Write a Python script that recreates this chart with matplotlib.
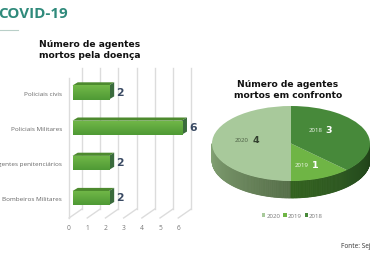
import matplotlib
matplotlib.use("Agg")
import matplotlib.pyplot as plt, numpy as np
from matplotlib.colors import to_rgb

W, H = 370, 270

bar_labels = ["Policiais civis", "Policiais Militares", "Agentes penitenciários", "Bombeiros Militares"]
bar_values = [2, 6, 2, 2]
bar_ticks = [0, 1, 2, 3, 4, 5, 6]

pie_years = ["2020", "2019", "2018"]
pie_values = [4, 1, 3]
pie_colors = ["#a8c99b", "#6fb545", "#47893a"]
side_left = ["#86a577", "#33621f", "#2a5420"]
side_right = ["#566f49", "#2c5620", "#1f4018"]


def px_axes(fig, x0, x1, y_top, y_bottom):
    # axes placed with reference pixel coordinates
    return fig.add_axes([x0 / W, 1 - y_bottom / H, (x1 - x0) / W, (y_bottom - y_top) / H])


fig = plt.figure(figsize=(W / 100, H / 100), dpi=100, facecolor="white")

fig.text(-2 / W, 1 - 13.5 / H, "COVID-19", color="#2f8a7b", fontsize=10.9, fontweight="bold",
         family="Open Sans", va="center", ha="left")
fig.add_artist(plt.Line2D([0, 18 / W], [1 - 30 / H, 1 - 30 / H], color="#b9cfc8", lw=0.8))

fig.text(90 / W, 1 - 50 / H, "Número de agentes\nmortos pela doença", fontsize=6.6, fontweight="bold",
         color="#111111", ha="center", va="center", linespacing=1.4)
fig.text(288 / W, 1 - 90 / H, "Número de agentes\nmortos em confronto", fontsize=6.6, fontweight="bold",
         color="#111111", ha="center", va="center", linespacing=1.4)

# bars
ax = px_axes(fig, 72.5, 181.7, 92.5, 198.1)
ax.set_xlim(0, 6)
ax.set_ylim(3, 0)
ax.axis("off")

back_dx, front_dx = 0.52, -0.19
floor_y, back_floor_y, top_y, side_top_y = 3.565, 3.31, -0.70, -0.41
grid = "#dcdcdc"
ax.plot([front_dx, front_dx], [side_top_y, floor_y], color=grid, lw=1, clip_on=False, zorder=1)
for t in bar_ticks:
    ax.plot([t + back_dx, t + back_dx], [top_y, back_floor_y], color=grid, lw=1, clip_on=False, zorder=1)
    ax.plot([t + front_dx, t + back_dx], [floor_y, back_floor_y], color=grid, lw=1, clip_on=False, zorder=1)
    ax.text(t + front_dx, 3.85, str(t), fontsize=4.8, color="#777777", ha="center", va="center",
            family="Open Sans")

bar_h = 0.40
depth_x, depth_y = 0.29, 0.09
gradient = np.linspace(0, 1, 32).reshape(-1, 1)
cmap = matplotlib.colors.LinearSegmentedColormap.from_list("barface", ["#72b848", "#4f9a35"])
for i, v in enumerate(bar_values):
    y0, y1 = i - bar_h / 2, i + bar_h / 2
    rect = ax.barh(i, v, height=bar_h, color="#62a93f", zorder=3)[0]
    im = ax.imshow(gradient, extent=[0, v, y1, y0], cmap=cmap, aspect="auto", zorder=3.1)
    im.set_clip_path(rect)
    ax.fill([0, depth_x, v + depth_x, v], [y0, y0 - depth_y, y0 - depth_y, y0], color="#4d8a2e", lw=0,
            clip_on=False, zorder=3)
    ax.fill([v, v + depth_x, v + depth_x, v], [y0, y0 - depth_y, y1 - depth_y, y1], color="#3a6b3c", lw=0,
            clip_on=False, zorder=3)
    ax.text(v + 0.42, i, str(v), fontsize=7.8, fontweight="bold", color="#3a4a63", ha="left", va="center",
            clip_on=False, zorder=4)
    ax.text(-0.58, i + 0.05, bar_labels[i], fontsize=4.6, color="#666666", ha="right", va="center",
            family="Open Sans", clip_on=False)
ax.set_xlim(0, 6)
ax.set_ylim(3, 0)

# pie with extruded rim
depth = 17 / 37.5
ax2 = px_axes(fig, 212, 370, 106, 198)
wedges, _ = ax2.pie(pie_values, colors=pie_colors, startangle=90, counterclock=True, radius=1)
for w in wedges:
    w.set_zorder(3)
    w.set_linewidth(0)
ax2.set_aspect("auto")
ax2.set_xlim(-1, 1)
ax2.set_ylim(-1 - depth, 1)
for k, w in enumerate(wedges):
    lo = max(w.theta1, 180)
    hi = min(w.theta2, 360)
    if hi <= lo:
        continue
    steps = max(int(hi - lo), 2)
    edges = np.radians(np.linspace(lo, hi, steps + 1))
    c0, c1 = np.array(to_rgb(side_left[k])), np.array(to_rgb(side_right[k]))
    for j in range(steps):
        a, b = edges[j], edges[j + 1]
        f = j / max(steps - 1, 1)
        col = c0 + (c1 - c0) * f
        ax2.fill([np.cos(a), np.cos(b), np.cos(b), np.cos(a)],
                 [np.sin(a), np.sin(b), np.sin(b) - depth, np.sin(a) - depth],
                 facecolor=col, edgecolor=col, lw=0.6, zorder=2, clip_on=False)

pie_label_pos = [(-0.53, 0.08), (0.22, -0.58), (0.40, 0.35)]
pie_text = ["#4d5f45", "#f2f7ee", "#f2f7ee"]
for (x, y), yr, v, c in zip(pie_label_pos, pie_years, pie_values, pie_text):
    ax2.text(x, y, yr, fontsize=4.4, color=c, ha="right", va="center", family="Open Sans", zorder=5)
    ax2.text(x + 0.04, y, str(v), fontsize=6.8, fontweight="bold",
             color="#33402f" if c == pie_text[0] else "white", ha="left", va="center", zorder=5)

fig.legend(wedges, pie_years, ncol=3, loc="center", bbox_to_anchor=(292.5 / W, 1 - 216 / H), frameon=False,
           prop={"family": "Open Sans", "size": 4.4}, labelcolor="#777777", handlelength=0.55, handleheight=0.55,
           handletextpad=0.2, columnspacing=0.45, borderpad=0)

fig.text(341 / W, 1 - 247 / H, "Fonte: Sejus", fontsize=4.7, color="#333333", family="Open Sans", ha="left",
         va="center")

fig.savefig("out.png", dpi=100, facecolor="white")
